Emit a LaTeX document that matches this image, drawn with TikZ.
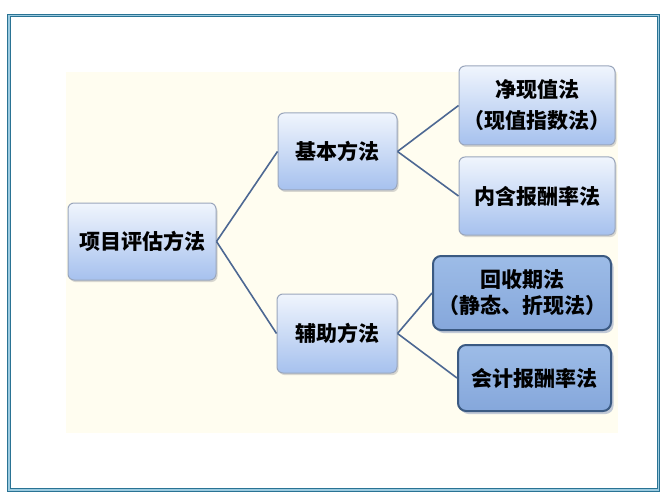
\documentclass[tikz,border=0pt]{standalone}
\usepackage{fontspec}
\setmainfont{Noto Sans CJK SC}
\usetikzlibrary{shadows}
\definecolor{framedark}{HTML}{2A7394}
\definecolor{framelight}{HTML}{9CCBE0}
\definecolor{cream}{HTML}{FFFDF0}
\definecolor{boxtop}{HTML}{F0F5FD}
\definecolor{boxbot}{HTML}{A6C1EE}
\definecolor{boxline}{HTML}{9AA6BC}
\definecolor{darktop}{HTML}{9DBCE7}
\definecolor{darkbot}{HTML}{85A7DB}
\definecolor{darkline}{HTML}{3B5A82}
\definecolor{linkcol}{HTML}{4D6893}
\begin{document}
\begin{tikzpicture}[x=1pt,y=-1pt,
    methodbox/.style={draw=boxline, line width=1pt, rounded corners=6pt,
      top color=boxtop, bottom color=boxbot, align=center,
      font=\fontsize{21}{31}\selectfont\bfseries,
      drop shadow={shadow xshift=1.5pt, shadow yshift=-2pt, fill=black!30, opacity=.5}},
    extrabox/.style={draw=darkline, line width=2pt, rounded corners=8pt,
      top color=darktop, bottom color=darkbot, align=center,
      font=\fontsize{21}{26}\selectfont\bfseries,
      drop shadow={shadow xshift=2.5pt, shadow yshift=-3pt, fill=boxline!60, opacity=1}},
    link/.style={draw=linkcol, line width=1.6pt}]
  \useasboundingbox (0,0) rectangle (667,500);

  % frame and background
  \draw[framedark, line width=1.2pt, double=framelight, double distance=1.4pt] (9,15.5) rectangle (658.5,490);
  \fill[cream] (66,72) rectangle (618,433);

  % nodes
  \node[methodbox, minimum width=148pt, minimum height=77pt] (eval) at (142,241.5) {项目评估方法};
  \node[methodbox, minimum width=119pt, minimum height=77pt] (basic) at (337.5,151.5) {基本方法};
  \node[methodbox, minimum width=120pt, minimum height=79pt] (aux) at (337,333.5) {辅助方法};
  \node[methodbox, minimum width=156pt, minimum height=79pt] (npv) at (537,105.5) {净现值法\\（现值指数法）};
  \node[methodbox, minimum width=156pt, minimum height=78pt] (irr) at (537,196) {内含报酬率法};
  \node[extrabox, minimum width=178pt, minimum height=74pt] (payback) at (522,293) {回收期法\\（静态、折现法）};
  \node[extrabox, minimum width=153pt, minimum height=66pt] (arr) at (534.5,378) {会计报酬率法};

  % connectors
  \draw[link] (eval.east) -- (basic.west);
  \draw[link] (eval.east) -- (aux.west);
  \draw[link] (basic.east) -- (npv.west);
  \draw[link] (basic.east) -- (irr.west);
  \draw[link] (aux.east) -- (payback.west);
  \draw[link] (aux.east) -- (arr.west);
\end{tikzpicture}
\end{document}
